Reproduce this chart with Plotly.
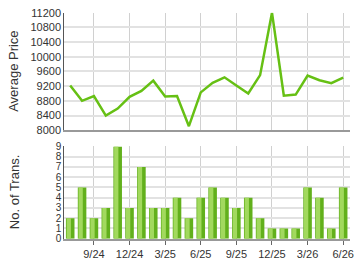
import plotly.graph_objects as go

months = ["7/24","8/24","9/24","10/24","11/24","12/24","1/25","2/25","3/25","4/25","5/25","6/25",
          "7/25","8/25","9/25","10/25","11/25","12/25","1/26","2/26","3/26","4/26","5/26","6/26"]
avg_price = [9220, 8800, 8930, 8400, 8590, 8910, 9070, 9350, 8920, 8930, 8110, 9030,
             9290, 9440, 9220, 9000, 9500, 11200, 8940, 8970, 9490, 9360, 9280, 9430]
num_trans = [2, 5, 2, 3, 9, 3, 7, 3, 3, 4, 2, 4, 5, 4, 3, 4, 2, 1, 1, 1, 5, 4, 1, 5]
tick_labels = ["9/24", "12/24", "3/25", "6/25", "9/25", "12/25", "3/26", "6/26"]

x = list(range(len(months)))
tick_vals = [months.index(t) for t in tick_labels]

fig = go.Figure()
fig.add_trace(go.Scatter(x=x, y=avg_price, mode="lines",
                         line=dict(color="#66c014", width=2.5), xaxis="x", yaxis="y",
                         hoverinfo="skip"))
fig.add_trace(go.Bar(x=x, y=num_trans, width=0.72, marker=dict(color="#62b01c", line=dict(width=0)),
                     xaxis="x2", yaxis="y2", hoverinfo="skip"))
fig.add_trace(go.Bar(x=x, y=num_trans, width=0.36, offset=-0.3,
                     marker=dict(color="#a2d95e", line=dict(width=0)),
                     xaxis="x2", yaxis="y2", hoverinfo="skip"))

font = dict(family="Liberation Sans, Arial, sans-serif", size=11, color="#333333")
font_small = dict(family="Liberation Sans, Arial, sans-serif", size=10, color="#333333")
title_font = dict(family="Liberation Sans, Arial, sans-serif", size=13, color="#333333")
xrange = [-0.5, 23.58]
xd = [65/360, 354/360]

fig.update_layout(
    width=360, height=270, margin=dict(l=0, r=0, t=0, b=0),
    paper_bgcolor="white", plot_bgcolor="white", showlegend=False,
    barmode="overlay", font=font,
    xaxis=dict(domain=xd, range=xrange, tickvals=tick_vals, showticklabels=False,
               showgrid=True, gridcolor="#d0d0d0", gridwidth=1, zeroline=False,
               showline=True, linecolor="#999999", linewidth=2, mirror=False, anchor="y"),
    yaxis=dict(domain=[1-130/270, 1-7/270], range=[8000, 11200], dtick=400, tickformat="d",
               showgrid=True, gridcolor="#e2e2e2", gridwidth=2, zeroline=False,
               showline=True, linecolor="#555555", linewidth=1, ticks="", tickfont=font,
               anchor="x"),
    xaxis2=dict(domain=xd, range=xrange, tickvals=tick_vals, ticktext=tick_labels,
                showgrid=True, gridcolor="#d0d0d0", gridwidth=1, zeroline=False,
                showline=True, linecolor="#999999", linewidth=2, ticks="outside",
                ticklen=4, tickcolor="#666666", tickfont=font, anchor="y2"),
    yaxis2=dict(domain=[1-243.5/270, 1-147/270], range=[0, 9], dtick=1,
                showgrid=True, gridcolor="#e2e2e2", gridwidth=2, zeroline=False,
                showline=True, linecolor="#555555", linewidth=1, tickfont=font_small,
                anchor="x2"),
    annotations=[
        dict(text="Average Price", x=14/360, y=1-68/270, xref="paper", yref="paper",
             xanchor="center", yanchor="middle",
             textangle=-90, showarrow=False, font=title_font),
        dict(text="No. of Trans.", x=14/360, y=1-195/270, xref="paper", yref="paper",
             xanchor="center", yanchor="middle",
             textangle=-90, showarrow=False, font=title_font),
    ],
)

fig.write_html("out.html")
